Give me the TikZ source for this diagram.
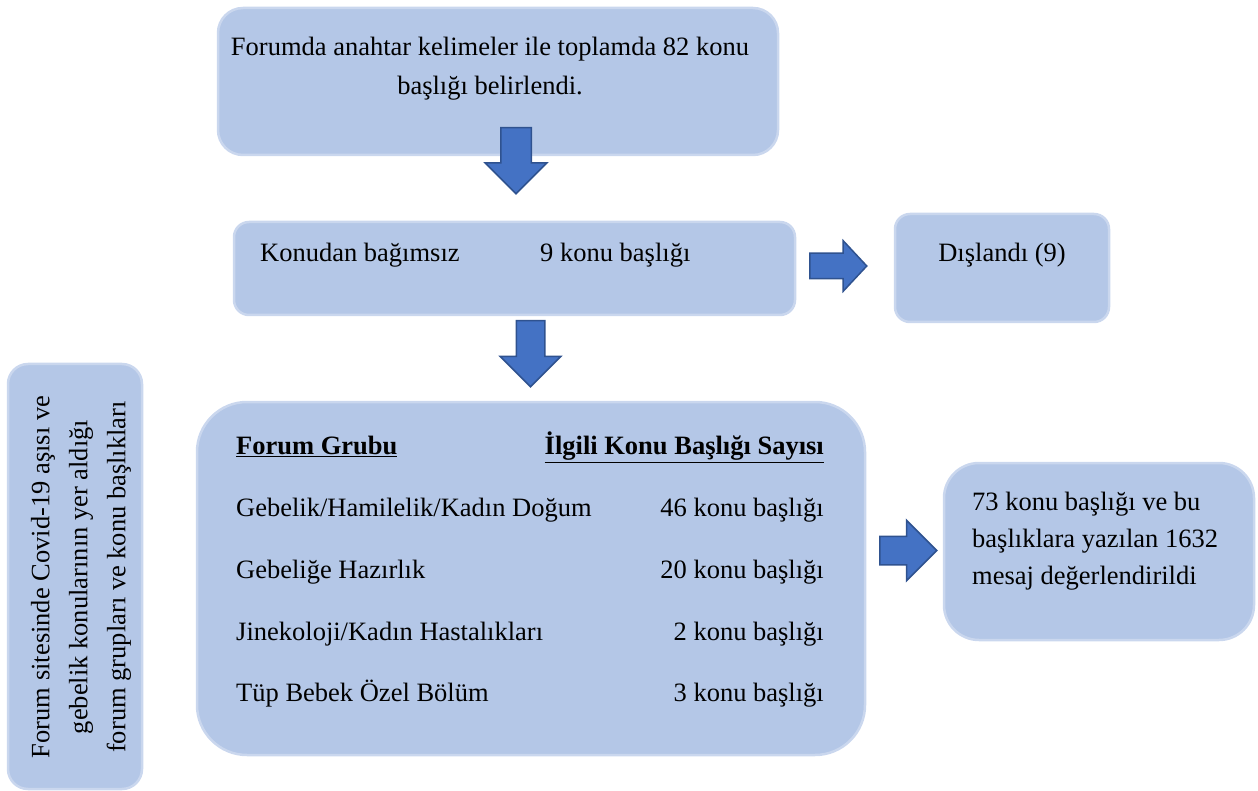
\documentclass[tikz,border=0pt]{standalone}
\usepackage{fontspec}
\setmainfont{Liberation Serif}
\usetikzlibrary{shapes,arrows,positioning}
\usepackage{xcolor}

\definecolor{boxblue}{HTML}{B4C7E7}
\definecolor{boxedge}{HTML}{CAD7EE}
\definecolor{arrowblue}{HTML}{4472C4}
\definecolor{arrowedge}{HTML}{2F528F}

\begin{document}
\begin{tikzpicture}[
    x=1pt, y=-1pt,
    every node/.style={font=\fontsize{26.5}{39}\selectfont},
    panel/.style={
        rectangle,
        draw=boxedge,
        line width=2.5pt,
        fill=boxblue,
        inner sep=0pt
    },
    rowtext/.style={
        inner sep=0pt,
        text height=0.72em,
        text depth=0.22em
    },
    blockarrow/.style={
        single arrow,
        draw=arrowedge,
        line width=1.5pt,
        fill=arrowblue,
        inner xsep=0pt,
        single arrow head indent=0pt
    }
]

\useasboundingbox (0,0) rectangle (1258,791);

% Boxes of the flow
\node[panel, rounded corners=25pt, minimum width=560pt, minimum height=147pt] (found) at (498, 81.5) {};
\node[panel, rounded corners=15pt, minimum width=561pt, minimum height=93pt] (unrelated) at (514.5, 268.5) {};
\node[panel, rounded corners=15pt, minimum width=214pt, minimum height=108pt] (excluded) at (1002, 268) {};
\node[panel, rounded corners=50pt, minimum width=668pt, minimum height=353pt] (groups) at (531, 578.5) {};
\node[panel, rounded corners=35pt, minimum width=310pt, minimum height=177pt] (result) at (1099, 551.5) {};
\node[panel, rounded corners=20pt, minimum width=134pt, minimum height=425pt] (side) at (75, 576.5) {};

% Texts inside the boxes
\node[align=center, inner sep=0pt] (found-txt) at (490, 69) {
    Forumda anahtar kelimeler ile toplamda 82 konu\\
    başlığı belirlendi.
};

\node[rowtext, anchor=west] (unrelated-name) at (260, 259) {Konudan bağımsız};
\node[rowtext, anchor=west] (unrelated-num) at (540, 259) {9 konu başlığı};

\node[rowtext] (excluded-txt) at (1002, 259) {Dışlandı (9)};

\node[rowtext, anchor=west, font=\fontsize{26.5}{39}\selectfont\bfseries] (head-group) at (236, 452) {\underline{Forum Grubu}};
\node[rowtext, anchor=east, font=\fontsize{26.5}{39}\selectfont\bfseries] (head-count) at (824, 452) {\underline{İlgili Konu Başlığı Sayısı}};

\node[rowtext, anchor=west] (g1) at (236, 514) {Gebelik/Hamilelik/Kadın Doğum};
\node[rowtext, anchor=east] (n1) at (824, 514) {46 konu başlığı};
\node[rowtext, anchor=west] (g2) at (236, 576) {Gebeliğe Hazırlık};
\node[rowtext, anchor=east] (n2) at (824, 576) {20 konu başlığı};
\node[rowtext, anchor=west] (g3) at (236, 638) {Jinekoloji/Kadın Hastalıkları};
\node[rowtext, anchor=east] (n3) at (824, 638) {2 konu başlığı};
\node[rowtext, anchor=west] (g4) at (236, 699) {Tüp Bebek Özel Bölüm};
\node[rowtext, anchor=east] (n4) at (824, 699) {3 konu başlığı};

\node[align=left, anchor=west, inner sep=0pt, font=\fontsize{26.5}{37}\selectfont] (result-txt) at (972, 541) {
    73 konu başlığı ve bu\\
    başlıklara yazılan 1632\\
    mesaj değerlendirildi
};

\node[align=center, rotate=90, inner sep=0pt, font=\fontsize{26.5}{38}\selectfont] (side-txt) at (81, 577) {
    Forum sitesinde Covid-19 aşısı ve\\
    gebelik konularının yer aldığı\\
    forum grupları ve konu başlıkları
};

% Block arrows between the boxes
\node[blockarrow, rotate=-90, anchor=tail, minimum height=66pt, inner ysep=14.5pt,
      single arrow head extend=15.5pt] (down-a) at (516, 127) {};
\node[blockarrow, rotate=-90, anchor=tail, minimum height=66pt, inner ysep=13.5pt,
      single arrow head extend=16pt] (down-b) at (530.5, 320) {};
\node[blockarrow, anchor=tail, minimum height=57pt, inner ysep=12pt,
      single arrow head extend=12.5pt, single arrow tip angle=94] (right-a) at (809, 266) {};
\node[blockarrow, anchor=tail, minimum height=57pt, inner ysep=13.5pt,
      single arrow head extend=16pt] (right-b) at (879, 550.5) {};

\end{tikzpicture}
\end{document}
